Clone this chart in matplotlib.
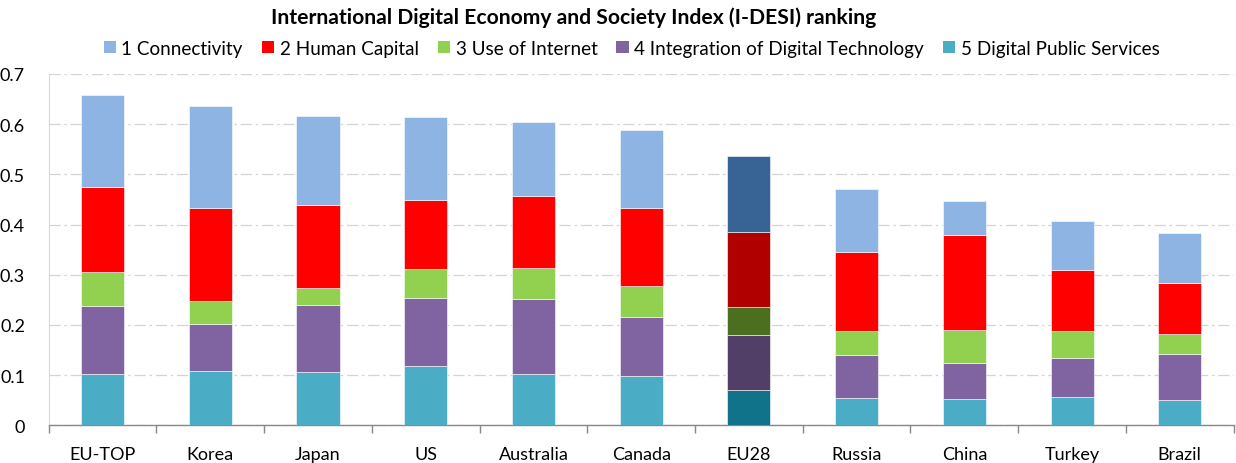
import numpy as np
import matplotlib
matplotlib.use("Agg")
import matplotlib.pyplot as plt
from matplotlib.patches import Patch

plt.rcParams['font.family'] = ['Lato', 'DejaVu Sans']

countries = ['EU-TOP', 'Korea', 'Japan', 'US', 'Australia', 'Canada',
             'EU28', 'Russia', 'China', 'Turkey', 'Brazil']

# stacked from bottom: 5, 4, 3, 2, 1
digital_public = [0.102, 0.109, 0.106, 0.118, 0.102, 0.099, 0.071, 0.054, 0.052, 0.057, 0.050]
integration = [0.136, 0.093, 0.134, 0.136, 0.150, 0.116, 0.109, 0.086, 0.072, 0.078, 0.092]
use_internet = [0.068, 0.045, 0.033, 0.057, 0.062, 0.063, 0.056, 0.048, 0.065, 0.053, 0.039]
human_capital = [0.169, 0.186, 0.166, 0.138, 0.142, 0.155, 0.149, 0.157, 0.191, 0.121, 0.102]
connectivity = [0.183, 0.203, 0.177, 0.165, 0.148, 0.155, 0.151, 0.126, 0.067, 0.098, 0.100]

labels = ['1 Connectivity', '2 Human Capital', '3 Use of Internet',
          '4 Integration of Digital Technology', '5 Digital Public Services']
colors = ['#8EB4E3', '#FF0000', '#92D050', '#8064A2', '#4BACC6']
dark_colors = ['#386395', '#B00000', '#4B6F1F', '#523F68', '#10738A']
highlight = 'EU28'

series = [digital_public, integration, use_internet, human_capital, connectivity]
series_colors = colors[::-1]
series_dark = dark_colors[::-1]

fig = plt.figure(figsize=(12.36, 4.64), dpi=100)
ax = fig.add_axes([0.0394, 0.0812, 0.9587, 0.7572])

x = np.arange(len(countries))
bottom = np.zeros(len(countries))
for vals, c, dc in zip(series, series_colors, series_dark):
    cols = [dc if name == highlight else c for name in countries]
    ax.bar(x, vals, width=0.40, bottom=bottom, color=cols,
           edgecolor='white', linewidth=0.4, zorder=3)
    bottom += np.array(vals)

ax.set_xlim(-0.5, len(countries) - 0.5)
ax.set_ylim(0, 0.7)
ax.set_yticks(np.arange(0, 0.71, 0.1))
ax.set_yticklabels(['0'] + [f'{v:.1f}' for v in np.arange(0.1, 0.71, 0.1)])
ax.set_xticks(x)
ax.set_xticklabels(countries)
ax.set_xticks(np.arange(-0.5, len(countries)), minor=True)

ax.tick_params(axis='y', length=0, pad=17, labelsize=13)
ax.tick_params(axis='x', which='major', length=0, pad=15, labelsize=13)
ax.tick_params(axis='x', which='minor', length=6, color='#888888', width=1)

ax.grid(axis='y', linestyle=(0, (9, 3, 2, 3)), color='#D4D4D4', linewidth=0.9, zorder=0)
ax.set_axisbelow(True)
for s in ['top', 'right']:
    ax.spines[s].set_visible(False)
ax.spines['left'].set_color('#D9D9D9')
ax.spines['bottom'].set_color('#888888')
ax.spines['bottom'].set_linewidth(1)

fig.text(0.464, 0.962, 'International Digital Economy and Society Index (I-DESI) ranking',
         ha='center', va='center', fontsize=15.2, fontweight='bold')

handles = [Patch(facecolor=c, edgecolor='none') for c in colors]
fig.legend(handles, labels, loc='center', bbox_to_anchor=(0.511, 0.894), ncol=5,
           frameon=False, fontsize=13.6, handlelength=0.65, handleheight=0.65,
           handletextpad=0.3, columnspacing=1.0)

fig.savefig('out.png', dpi=100)
